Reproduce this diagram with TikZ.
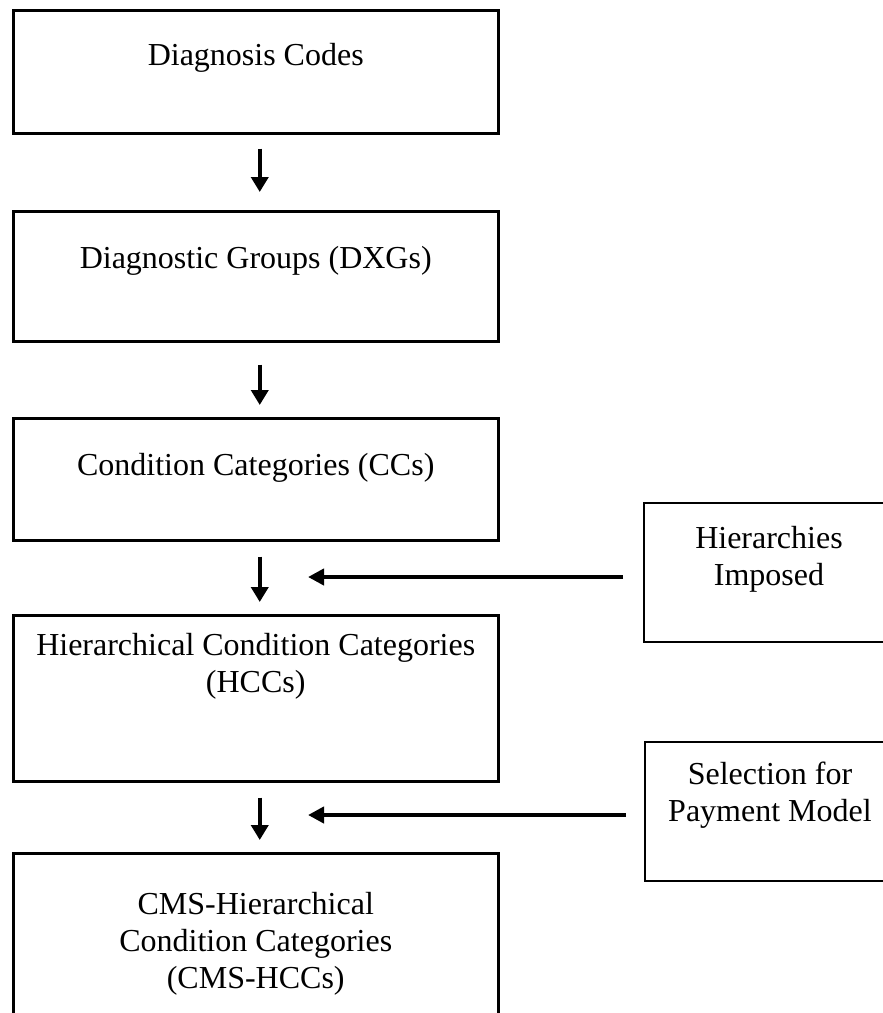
\documentclass[tikz,border=0pt]{standalone}
\usepackage{fontspec}
\setmainfont{Liberation Serif}
\usetikzlibrary{arrows.meta, positioning}
\newcommand{\stagetxt}[4]{\parbox[t][#1][t]{#2}{\centering\vspace*{#3}#4}}
\tikzset{
  stage/.style ={draw, rectangle, inner sep=0pt, anchor=north west, line width=2.5pt, font=\fontsize{32}{37}\selectfont},
  side/.style  ={draw, rectangle, inner sep=0pt, anchor=north west, line width=2pt, font=\fontsize{32}{37}\selectfont},
  down/.style  ={-{Triangle[length=15pt, width=17pt]}, line width=4pt},   % step to step
  feed/.style  ={-{Triangle[length=16pt, width=16pt]}, line width=4.5pt}, % side input
}
\begin{document}
\begin{tikzpicture}[x=1pt, y=-1pt]
  \useasboundingbox (0,0) rectangle (883,1013);
  \clip (0,0) rectangle (883,1013);
  % main chain
  \node[stage] (dc)  at (12,9)   {\stagetxt{123pt}{485pt}{33pt}{Diagnosis Codes}};
  \node[stage] (dxg) at (12,210) {\stagetxt{130pt}{485pt}{35pt}{Diagnostic Groups (DXGs)}};
  \node[stage] (cc)  at (12,417) {\stagetxt{122pt}{485pt}{35pt}{Condition Categories (CCs)}};
  \node[stage] (hcc) at (12,614) {\stagetxt{166pt}{485pt}{18pt}{Hierarchical Condition Categories\\(HCCs)}};
  \node[stage] (cms) at (12,852) {\stagetxt{190pt}{485pt}{39pt}{CMS-Hierarchical\\Condition Categories\\(CMS-HCCs)}};
  % side inputs
  \node[side] (hier) at (643,502) {\stagetxt{139pt}{250pt}{23pt}{Hierarchies\\Imposed}};
  \node[side] (sel)  at (644,741) {\stagetxt{139pt}{250pt}{20pt}{Selection for\\Payment Model}};
  \draw[down, shorten <=14pt, shorten >=18pt] ([xshift=4]dc.south) -- ([xshift=4]dxg.north);
  \draw[down, shorten <=22pt, shorten >=12pt] ([xshift=4]dxg.south) -- ([xshift=4]cc.north);
  \draw[down, shorten <=15pt, shorten >=12pt] ([xshift=4]cc.south) -- ([xshift=4]hcc.north);
  \draw[down, shorten <=15pt, shorten >=12pt] ([xshift=4]hcc.south) -- ([xshift=4]cms.north);
  \coordinate (hiertip) at (308,577);
  \coordinate (seltip)  at (308,815);
  \draw[feed, shorten <=20pt] (hier.west |- hiertip) -- (hiertip);
  \draw[feed, shorten <=18pt] (sel.west |- seltip) -- (seltip);
\end{tikzpicture}
\end{document}
